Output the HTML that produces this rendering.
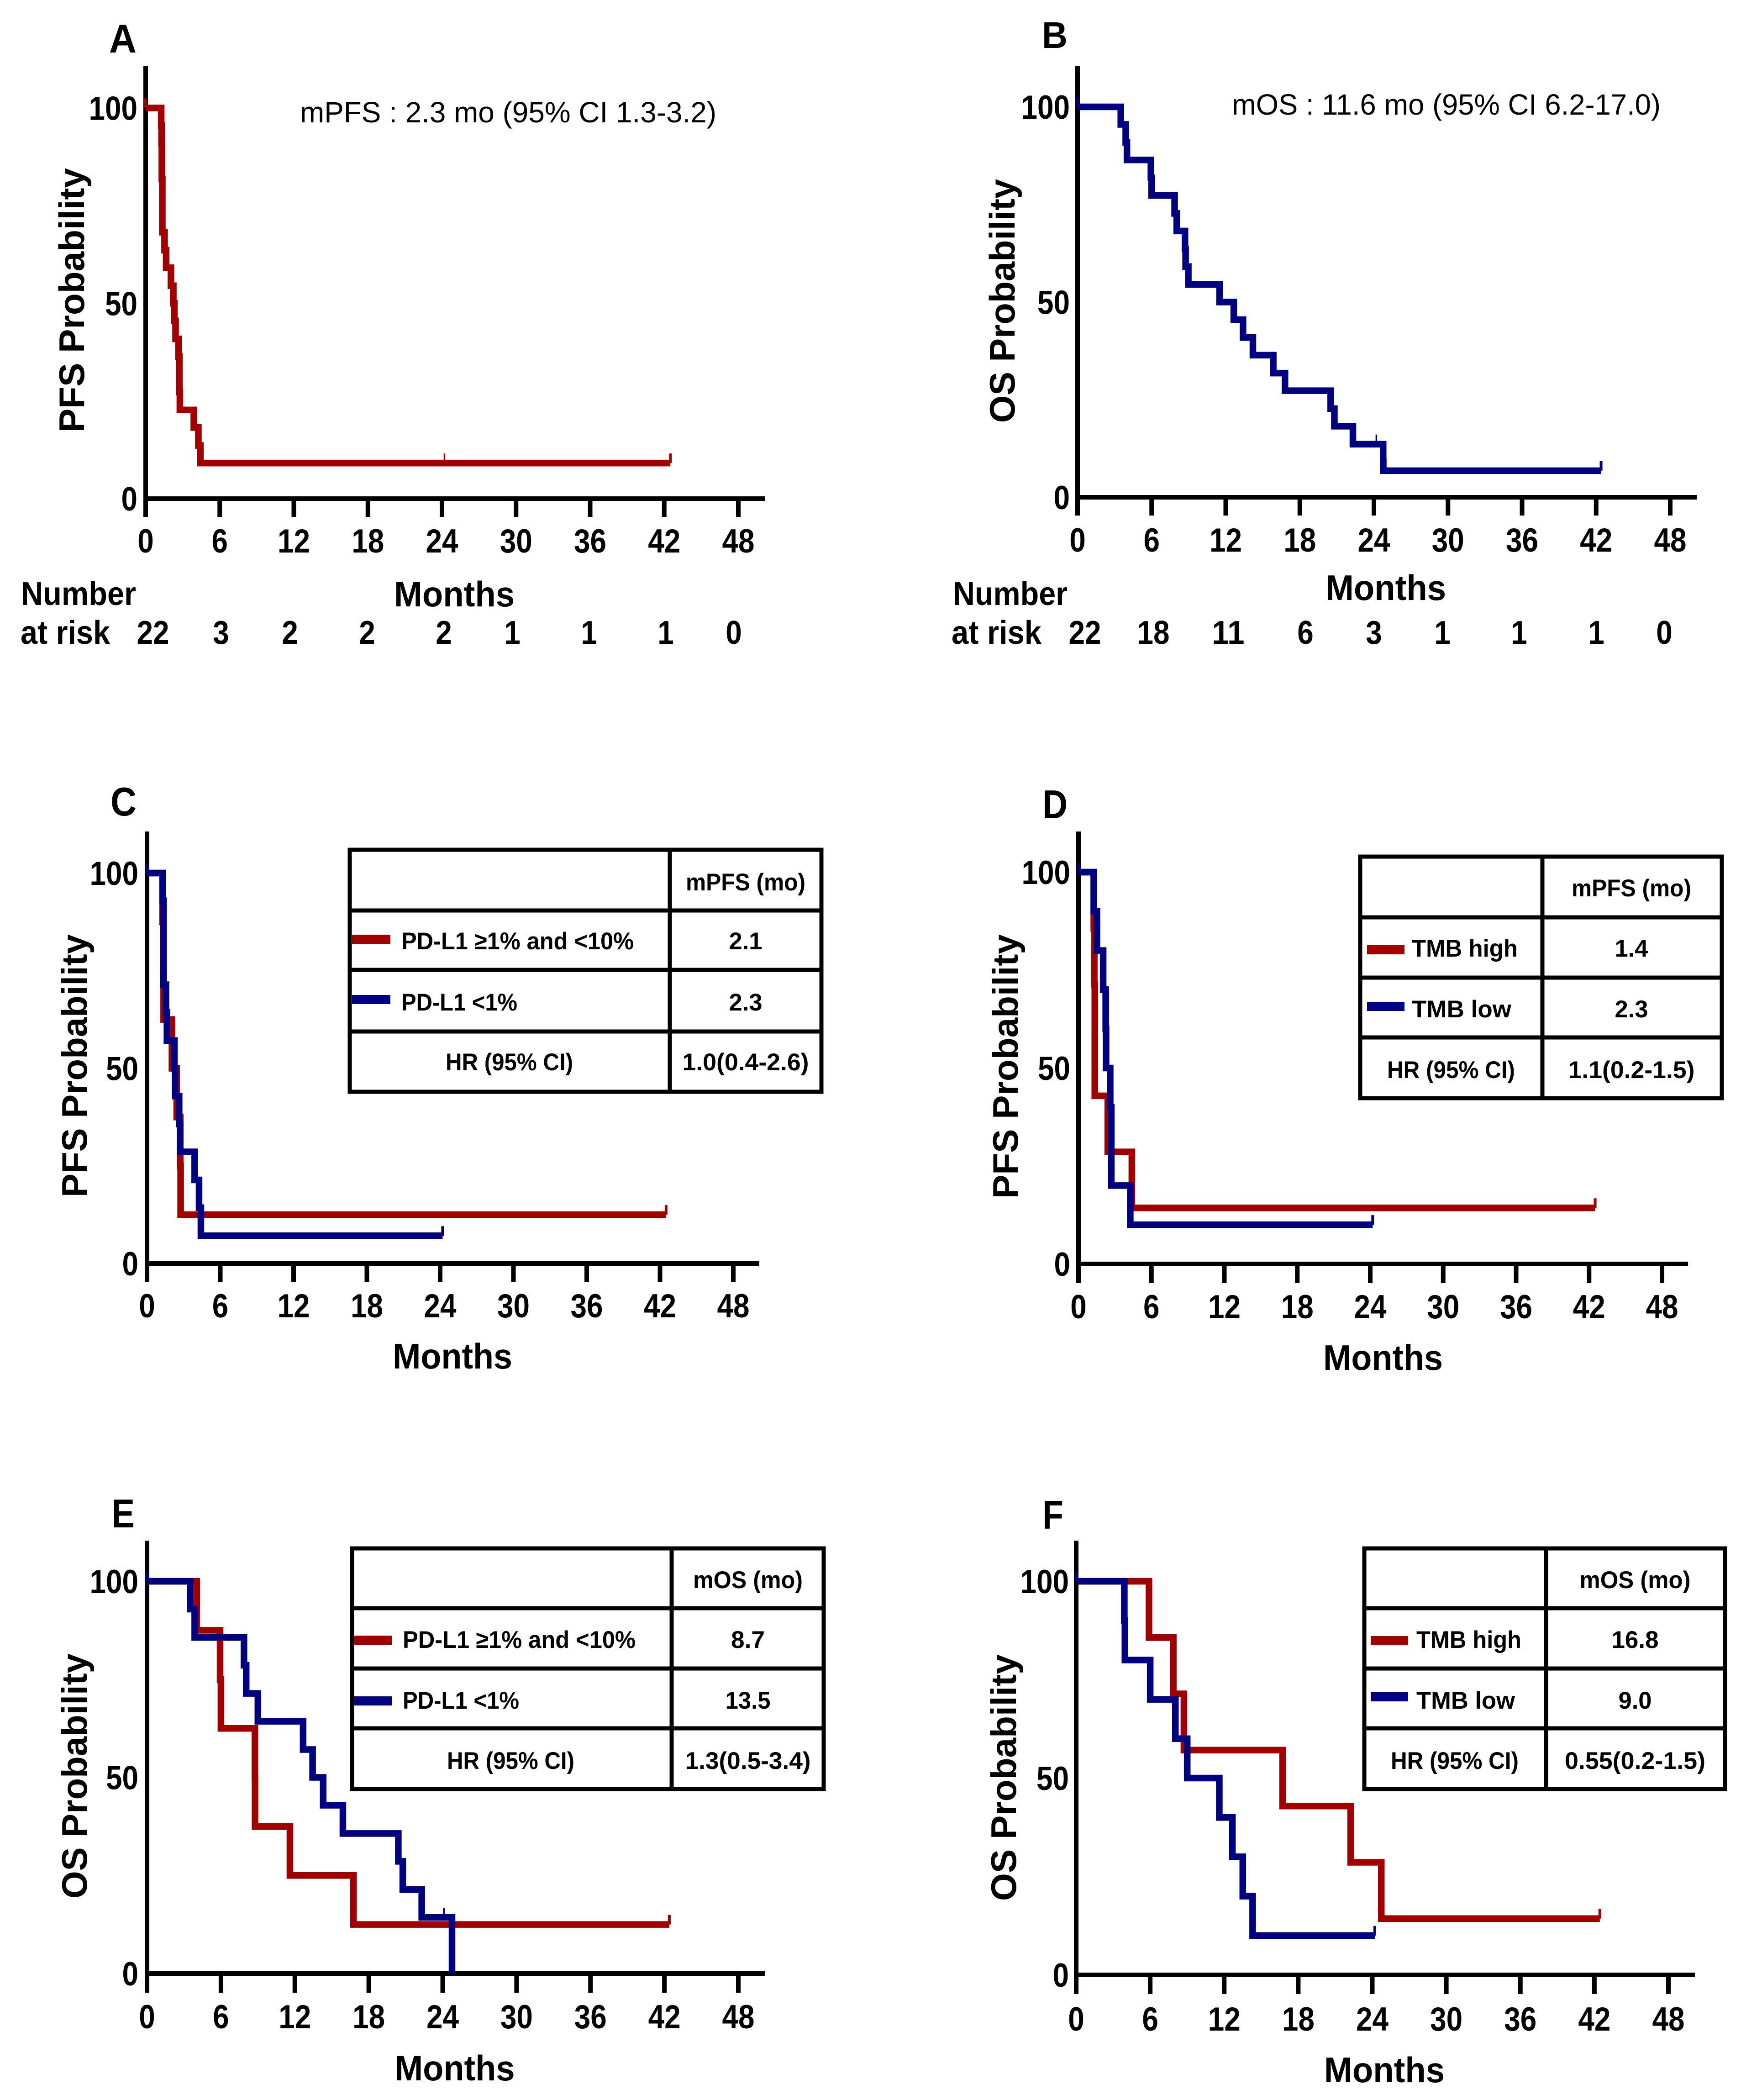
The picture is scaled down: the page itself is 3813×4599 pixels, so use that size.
<!DOCTYPE html>
<html>
<head>
<meta charset="utf-8">
<title>Kaplan-Meier survival curves</title>
<style>
html,body{margin:0;padding:0;background:#fff;}
svg{display:block;}
text{font-family:"Liberation Sans",sans-serif;fill:#000;}
.b{font-weight:bold;}
.tl{stroke:#000;stroke-width:9;fill:none;}
</style>
</head>
<body>
<svg id="figure" xmlns="http://www.w3.org/2000/svg" width="3813" height="4599" viewBox="0 0 3813 4599">
<rect width="3813" height="4599" fill="#fff"/>

<!-- Panel letters -->
<text class="b" x="239" y="115" font-size="88" textLength="60" lengthAdjust="spacingAndGlyphs">A</text>
<text class="b" x="2282" y="105" font-size="82" textLength="56" lengthAdjust="spacingAndGlyphs">B</text>
<text class="b" x="242" y="1786" font-size="88" textLength="57" lengthAdjust="spacingAndGlyphs">C</text>
<text class="b" x="2283" y="1792" font-size="88" textLength="55" lengthAdjust="spacingAndGlyphs">D</text>
<text class="b" x="245" y="3345" font-size="88" textLength="50" lengthAdjust="spacingAndGlyphs">E</text>
<text class="b" x="2283" y="3348" font-size="88" textLength="46" lengthAdjust="spacingAndGlyphs">F</text>

<!-- Y axis titles -->
<text class="b" transform="translate(184,947) rotate(-90)" font-size="78" textLength="579" lengthAdjust="spacingAndGlyphs">PFS Probability</text>
<text class="b" transform="translate(2222,926) rotate(-90)" font-size="78" textLength="534" lengthAdjust="spacingAndGlyphs">OS Probability</text>
<text class="b" transform="translate(190,2622) rotate(-90)" font-size="78" textLength="576" lengthAdjust="spacingAndGlyphs">PFS Probability</text>
<text class="b" transform="translate(2229,2625) rotate(-90)" font-size="78" textLength="579" lengthAdjust="spacingAndGlyphs">PFS Probability</text>
<text class="b" transform="translate(190,4158) rotate(-90)" font-size="78" textLength="537" lengthAdjust="spacingAndGlyphs">OS Probability</text>
<text class="b" transform="translate(2225,4163) rotate(-90)" font-size="78" textLength="540" lengthAdjust="spacingAndGlyphs">OS Probability</text>

<!-- X axis titles -->
<text class="b" x="995" y="1328" font-size="78" text-anchor="middle" textLength="264" lengthAdjust="spacingAndGlyphs">Months</text>
<text class="b" x="3035" y="1314" font-size="78" text-anchor="middle" textLength="264" lengthAdjust="spacingAndGlyphs">Months</text>
<text class="b" x="991" y="2997" font-size="78" text-anchor="middle" textLength="262" lengthAdjust="spacingAndGlyphs">Months</text>
<text class="b" x="3029" y="3000" font-size="78" text-anchor="middle" textLength="262" lengthAdjust="spacingAndGlyphs">Months</text>
<text class="b" x="996" y="4556" font-size="78" text-anchor="middle" textLength="263" lengthAdjust="spacingAndGlyphs">Months</text>
<text class="b" x="3032" y="4560" font-size="78" text-anchor="middle" textLength="264" lengthAdjust="spacingAndGlyphs">Months</text>

<!-- Median annotations -->
<text x="657" y="268" font-size="64" textLength="912" lengthAdjust="spacingAndGlyphs">mPFS : 2.3 mo (95% CI 1.3-3.2)</text>
<text x="2698" y="251" font-size="64" textLength="939" lengthAdjust="spacingAndGlyphs">mOS : 11.6 mo (95% CI 6.2-17.0)</text>

<!-- Number at risk headings -->
<text class="b" x="46" y="1325" font-size="72" textLength="252" lengthAdjust="spacingAndGlyphs">Number</text>
<text class="b" x="45" y="1410" font-size="72" textLength="196" lengthAdjust="spacingAndGlyphs">at risk</text>
<text class="b" x="2087" y="1325" font-size="72" textLength="251" lengthAdjust="spacingAndGlyphs">Number</text>
<text class="b" x="2084" y="1410" font-size="72" textLength="197" lengthAdjust="spacingAndGlyphs">at risk</text>

<!-- Table C -->
<g>
<g class="tl"><rect x="766" y="1861" width="1033" height="530"/><line x1="1467" y1="1861" x2="1467" y2="2391"/><line x1="766" y1="1994" x2="1799" y2="1994"/><line x1="766" y1="2124" x2="1799" y2="2124"/><line x1="766" y1="2259" x2="1799" y2="2259"/></g>
<text class="b" x="1633" y="1950" font-size="53" text-anchor="middle" textLength="262" lengthAdjust="spacingAndGlyphs">mPFS (mo)</text>
<line x1="771" y1="2057" x2="855" y2="2057" stroke="#a00000" stroke-width="20"/>
<text class="b" x="879" y="2079" font-size="53" textLength="509" lengthAdjust="spacingAndGlyphs">PD-L1 ≥1% and &lt;10%</text>
<text class="b" x="1633" y="2079" font-size="53" text-anchor="middle" textLength="73" lengthAdjust="spacingAndGlyphs">2.1</text>
<line x1="771" y1="2189" x2="855" y2="2189" stroke="#000080" stroke-width="20"/>
<text class="b" x="879" y="2213" font-size="53" textLength="254" lengthAdjust="spacingAndGlyphs">PD-L1 &lt;1%</text>
<text class="b" x="1633" y="2213" font-size="53" text-anchor="middle" textLength="73" lengthAdjust="spacingAndGlyphs">2.3</text>
<text class="b" x="976" y="2344" font-size="53" textLength="279" lengthAdjust="spacingAndGlyphs">HR (95% CI)</text>
<text class="b" x="1633" y="2344" font-size="53" text-anchor="middle" textLength="277" lengthAdjust="spacingAndGlyphs">1.0(0.4-2.6)</text>
</g>

<!-- Table D -->
<g>
<g class="tl"><rect x="2979" y="1876" width="792" height="529"/><line x1="3378" y1="1876" x2="3378" y2="2405"/><line x1="2979" y1="2009" x2="3771" y2="2009"/><line x1="2979" y1="2141" x2="3771" y2="2141"/><line x1="2979" y1="2272" x2="3771" y2="2272"/></g>
<text class="b" x="3573" y="1963" font-size="53" text-anchor="middle" textLength="262" lengthAdjust="spacingAndGlyphs">mPFS (mo)</text>
<line x1="2994" y1="2080" x2="3076" y2="2080" stroke="#a00000" stroke-width="20"/>
<text class="b" x="3092" y="2095" font-size="53" textLength="232" lengthAdjust="spacingAndGlyphs">TMB high</text>
<text class="b" x="3573" y="2095" font-size="53" text-anchor="middle" textLength="73" lengthAdjust="spacingAndGlyphs">1.4</text>
<line x1="2994" y1="2204" x2="3076" y2="2204" stroke="#000080" stroke-width="20"/>
<text class="b" x="3092" y="2228" font-size="53" textLength="218" lengthAdjust="spacingAndGlyphs">TMB low</text>
<text class="b" x="3573" y="2228" font-size="53" text-anchor="middle" textLength="73" lengthAdjust="spacingAndGlyphs">2.3</text>
<text class="b" x="3038" y="2361" font-size="53" textLength="280" lengthAdjust="spacingAndGlyphs">HR (95% CI)</text>
<text class="b" x="3573" y="2361" font-size="53" text-anchor="middle" textLength="277" lengthAdjust="spacingAndGlyphs">1.1(0.2-1.5)</text>
</g>

<!-- Table E -->
<g>
<g class="tl"><rect x="771" y="3391" width="1033" height="527"/><line x1="1471" y1="3391" x2="1471" y2="3918"/><line x1="771" y1="3522" x2="1804" y2="3522"/><line x1="771" y1="3654" x2="1804" y2="3654"/><line x1="771" y1="3785" x2="1804" y2="3785"/></g>
<text class="b" x="1638" y="3478" font-size="53" text-anchor="middle" textLength="240" lengthAdjust="spacingAndGlyphs">mOS (mo)</text>
<line x1="776" y1="3592" x2="858" y2="3592" stroke="#a00000" stroke-width="20"/>
<text class="b" x="882" y="3609" font-size="53" textLength="510" lengthAdjust="spacingAndGlyphs">PD-L1 ≥1% and &lt;10%</text>
<text class="b" x="1638" y="3609" font-size="53" text-anchor="middle" textLength="74" lengthAdjust="spacingAndGlyphs">8.7</text>
<line x1="776" y1="3725" x2="858" y2="3725" stroke="#000080" stroke-width="20"/>
<text class="b" x="882" y="3742" font-size="53" textLength="255" lengthAdjust="spacingAndGlyphs">PD-L1 &lt;1%</text>
<text class="b" x="1638" y="3742" font-size="53" text-anchor="middle" textLength="99" lengthAdjust="spacingAndGlyphs">13.5</text>
<text class="b" x="979" y="3874" font-size="53" textLength="279" lengthAdjust="spacingAndGlyphs">HR (95% CI)</text>
<text class="b" x="1638" y="3874" font-size="53" text-anchor="middle" textLength="275" lengthAdjust="spacingAndGlyphs">1.3(0.5-3.4)</text>
</g>

<!-- Table F -->
<g>
<g class="tl"><rect x="2988" y="3391" width="790" height="527"/><line x1="3386" y1="3391" x2="3386" y2="3918"/><line x1="2988" y1="3522" x2="3778" y2="3522"/><line x1="2988" y1="3654" x2="3778" y2="3654"/><line x1="2988" y1="3785" x2="3778" y2="3785"/></g>
<text class="b" x="3581" y="3478" font-size="53" text-anchor="middle" textLength="243" lengthAdjust="spacingAndGlyphs">mOS (mo)</text>
<line x1="3002" y1="3593" x2="3084" y2="3593" stroke="#a00000" stroke-width="20"/>
<text class="b" x="3102" y="3609" font-size="53" textLength="230" lengthAdjust="spacingAndGlyphs">TMB high</text>
<text class="b" x="3581" y="3609" font-size="53" text-anchor="middle" textLength="103" lengthAdjust="spacingAndGlyphs">16.8</text>
<line x1="3002" y1="3716" x2="3084" y2="3716" stroke="#000080" stroke-width="20"/>
<text class="b" x="3102" y="3742" font-size="53" textLength="216" lengthAdjust="spacingAndGlyphs">TMB low</text>
<text class="b" x="3581" y="3742" font-size="53" text-anchor="middle" textLength="73" lengthAdjust="spacingAndGlyphs">9.0</text>
<text class="b" x="3046" y="3874" font-size="53" textLength="280" lengthAdjust="spacingAndGlyphs">HR (95% CI)</text>
<text class="b" x="3581" y="3874" font-size="53" text-anchor="middle" textLength="308" lengthAdjust="spacingAndGlyphs">0.55(0.2-1.5)</text>
</g>

<g id="charts"></g>
</svg>

<script>
// Shared tick labels
const monthTicks = [0, 6, 12, 18, 24, 30, 36, 42, 48];
const probabilityTicks = [0, 50, 100];

// Panel A: PFS, all patients
const aTimes = [1.26, 1.29, 1.31, 1.31, 1.35, 1.35, 1.35, 1.53, 1.66, 2.05, 2.24, 2.32, 2.42, 2.66, 2.73, 2.73, 2.77, 3.9, 4.27, 4.43];
const aSurvival = [95.5, 90.9, 86.4, 81.8, 77.3, 72.7, 68.2, 63.6, 59.1, 54.5, 50, 45.5, 40.9, 36.4, 31.8, 27.3, 22.7, 18.2, 13.6, 9.1];
const aCensored = [0, 24.2, 42.5];
const aAtRisk = [22, 3, 2, 2, 2, 1, 1, 1, 0];

// Panel B: OS, all patients
const bTimes = [3.5, 3.9, 4.0, 5.94, 6.0, 7.86, 8.03, 8.7, 8.75, 8.97, 11.5, 12.65, 13.4, 14.2, 15.85, 16.8, 20.5, 20.8, 22.3, 24.75, 24.76];
const bSurvival = [95.5, 90.9, 86.4, 81.8, 77.3, 72.7, 68.2, 63.6, 59.1, 54.5, 50, 45.5, 40.9, 36.4, 31.8, 27.3, 22.7, 18.2, 13.6, 9.1, 6.8];
const bCensored = [0, 24.2, 42.4];
const bAtRisk = [22, 18, 11, 6, 3, 1, 1, 1, 0];

// Panel C: PFS by PD-L1
const cHighTimes = [1.28, 1.32, 1.36, 2.04, 2.43, 2.72, 2.75];
const cHighSurvival = [87.5, 75, 62.5, 50, 37.5, 25, 12.5];
const cHighCensored = [42.5];
const cLowTimes = [1.28, 1.35, 1.35, 1.35, 1.55, 1.63, 2.24, 2.3, 2.63, 2.71, 3.9, 4.26, 4.41];
const cLowSurvival = [92.9, 85.7, 78.6, 71.4, 64.3, 57.1, 50, 42.9, 35.7, 28.6, 21.4, 14.3, 7.1];
const cLowCensored = [0, 24.2];

// Panel D: PFS by TMB
const dHighTimes = [1.26, 1.3, 1.34, 1.34, 2.41, 4.39];
const dHighSurvival = [85.7, 71.4, 57.1, 42.9, 28.6, 14.3];
const dHighCensored = [42.5];
const dLowTimes = [1.26, 1.52, 2.03, 2.24, 2.27, 2.61, 2.7, 2.7, 4.26];
const dLowSurvival = [90, 80, 70, 60, 50, 40, 30, 20, 10];
const dLowCensored = [0, 24.2];

// Panel E: OS by PD-L1
const eHighTimes = [4.04, 5.93, 6.0, 8.76, 8.77, 11.6, 16.76];
const eHighSurvival = [87.5, 75, 62.5, 50, 37.5, 25, 12.5];
const eHighCensored = [42.4];
const eLowTimes = [3.5, 3.87, 7.87, 8.05, 9.0, 12.67, 13.44, 14.3, 15.9, 20.4, 20.76, 22.3, 24.76];
const eLowSurvival = [92.9, 85.7, 78.6, 71.4, 64.3, 57.1, 50, 42.9, 35.7, 28.6, 21.4, 14.3, 0];
const eLowCensored = [0, 24.1];

// Panel F: OS by TMB
const fHighTimes = [5.9, 7.87, 8.73, 16.73, 22.25, 24.73];
const fHighSurvival = [85.7, 71.4, 57.1, 42.9, 28.6, 14.3];
const fHighCensored = [42.44];
const fLowTimes = [3.9, 3.95, 6.0, 8.04, 9.0, 11.6, 12.66, 13.5, 14.3];
const fLowSurvival = [90, 80, 70, 60, 50, 40, 30, 20, 10];
const fLowCensored = [0, 24.2];

const RED = '#a00000';
const BLUE = '#000080';
const NS = 'http://www.w3.org/2000/svg';
const root = document.getElementById('charts');

function svgEl(tag, parent, attrs) {
  const el = document.createElementNS(NS, tag);
  for (const k in attrs) el.setAttribute(k, attrs[k]);
  parent.appendChild(el);
  return el;
}

function drawPanel(key, frame, series, riskCounts, riskCenters) {
  const xScale = m => frame.x0 + m * (frame.x48 - frame.x0) / 48;
  const yScale = p => frame.y0 - p * (frame.y0 - frame.y100) / 100;

  const g = svgEl('g', root, {});
  
  

  // axes
  const yAxis = svgEl('line', g, { x1: frame.x0, x2: frame.x0, y1: frame.top, y2: frame.tickBottom, stroke: '#000', 'stroke-width': 10 });
  
  
  const xAxis = svgEl('line', g, { x1: frame.x0, x2: frame.right, y1: frame.y0, y2: frame.y0, stroke: '#000', 'stroke-width': 10 });
  
  

  monthTicks.forEach(m => {
    const tick = svgEl('line', g, { x1: xScale(m), x2: xScale(m), y1: frame.y0, y2: frame.tickBottom, stroke: '#000', 'stroke-width': 10 });
    
    
    const label = svgEl('text', g, { x: xScale(m), y: frame.tickBase, 'font-size': 73, 'font-weight': 'bold', 'text-anchor': 'middle', textLength: String(m).length * 35.5, lengthAdjust: 'spacingAndGlyphs' });
    label.textContent = m;
    
    
  });

  probabilityTicks.forEach(p => {
    const label = svgEl('text', g, { x: frame.labelRight, y: yScale(p) + 26, 'font-size': 73, 'font-weight': 'bold', 'text-anchor': 'end', textLength: String(p).length * 35.5, lengthAdjust: 'spacingAndGlyphs' });
    label.textContent = p;
    
    
  });

  // series
  series.forEach(s => {
    const end = Math.max.apply(null, s.censored);
    const lastT = s.times[s.times.length - 1];
    const lastS = s.survival[s.survival.length - 1];
    let d = 'M' + xScale(0) + ' ' + yScale(100);
    s.times.forEach((t, i) => {
      d += 'H' + xScale(t) + 'V' + yScale(s.survival[i]);
    });
    if (end > lastT && lastS > 0) d += 'H' + xScale(end);
    const path = svgEl('path', g, { d: d, fill: 'none', stroke: s.color, 'stroke-width': 14.5, 'stroke-linejoin': 'miter', 'stroke-linecap': 'butt' });
    
    

    s.censored.forEach(c => {
      let level = 100;
      s.times.forEach((t, i) => { if (t <= c) level = s.survival[i]; });
      const isHeavy = c === 0 || (c === end && lastT < c);
      const tick = svgEl('line', g, { x1: xScale(c), x2: xScale(c), y1: yScale(level), y2: yScale(level) - 21, stroke: s.color, 'stroke-width': isHeavy ? 6 : 3.5 });
      
      
    });
  });

  // number at risk
  if (riskCounts) {
    riskCounts.forEach((n, i) => {
      const label = svgEl('text', g, { x: riskCenters(i), y: 1410, 'font-size': 72, 'font-weight': 'bold', 'text-anchor': 'middle', textLength: String(n).length * 35.5, lengthAdjust: 'spacingAndGlyphs' });
      label.textContent = n;
      
      
    });
  }
}

// at-risk label layout: the counts in the source are not exactly under the ticks
const riskLayoutA = { start: 335, centers: [335, 484, 635, 804, 972, 1122, 1290, 1458, 1607] };
const riskLayoutB = { start: 2376, centers: [2376, 2526, 2690, 2859, 3009, 3159, 3327, 3496, 3645] };

drawPanel('a', { x0: 319, x48: 1617, y100: 236.5, y0: 1092, top: 145, right: 1676, tickBottom: 1132, tickBase: 1210, labelRight: 301 },
  [{ name: 'all', color: RED, times: aTimes, survival: aSurvival, censored: aCensored }], aAtRisk, i => riskLayoutA.centers[i]);

drawPanel('b', { x0: 2360, x48: 3658, y100: 234, y0: 1089, top: 145, right: 3716, tickBottom: 1129, tickBase: 1208, labelRight: 2343 },
  [{ name: 'all', color: BLUE, times: bTimes, survival: bSurvival, censored: bCensored }], bAtRisk, i => riskLayoutB.centers[i]);

drawPanel('c', { x0: 322, x48: 1606, y100: 1912, y0: 2767, top: 1821, right: 1663, tickBottom: 2807, tickBase: 2885, labelRight: 303 },
  [{ name: 'high', color: RED, times: cHighTimes, survival: cHighSurvival, censored: cHighCensored },
   { name: 'low', color: BLUE, times: cLowTimes, survival: cLowSurvival, censored: cLowCensored }]);

drawPanel('d', { x0: 2362, x48: 3640, y100: 1910, y0: 2768, top: 1821, right: 3697, tickBottom: 2810, tickBase: 2887, labelRight: 2344 },
  [{ name: 'high', color: RED, times: dHighTimes, survival: dHighSurvival, censored: dHighCensored },
   { name: 'low', color: BLUE, times: dLowTimes, survival: dLowSurvival, censored: dLowCensored }]);

drawPanel('e', { x0: 322, x48: 1617, y100: 3463, y0: 4322, top: 3374, right: 1675, tickBottom: 4364, tickBase: 4442, labelRight: 303 },
  [{ name: 'high', color: RED, times: eHighTimes, survival: eHighSurvival, censored: eHighCensored },
   { name: 'low', color: BLUE, times: eLowTimes, survival: eLowSurvival, censored: eLowCensored }]);

drawPanel('f', { x0: 2357, x48: 3654, y100: 3463, y0: 4325, top: 3374, right: 3712, tickBottom: 4367, tickBase: 4447, labelRight: 2341 },
  [{ name: 'high', color: RED, times: fHighTimes, survival: fHighSurvival, censored: fHighCensored },
   { name: 'low', color: BLUE, times: fLowTimes, survival: fLowSurvival, censored: fLowCensored }]);
</script>
</body>
</html>
